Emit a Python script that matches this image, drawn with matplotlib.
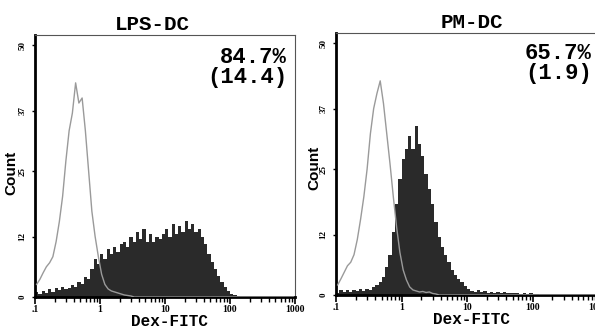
import numpy as np
import matplotlib.pyplot as plt
from matplotlib.ticker import FixedLocator, LogLocator, NullFormatter

# channel bins: 1/20 decade from 0.1 to 1000
edges = np.logspace(-1, 3, 81)
centers = np.sqrt(edges[:-1] * edges[1:])

# LPS-DC panel
lps_ctrl = [2.5, 3.5, 4.8, 6.0, 6.8, 8.0, 11.0, 15.0, 20.0, 27.0,
            33.0, 36.5, 42.5, 38.5, 39.5, 33.0, 25.0, 17.0, 12.0, 8.0,
            4.5, 2.5, 1.6, 1.2, 1.0, 0.8, 0.6, 0.4, 0.3, 0.2] + [0] * 50
lps_dc = [1.0, 0.6, 1.2, 0.8, 1.5, 1.0, 1.8, 1.3, 2.0, 1.6,
          1.8, 2.4, 2.0, 3.0, 2.6, 4.0, 3.6, 5.5, 7.5, 6.5,
          8.5, 7.5, 9.5, 8.5, 10.0, 9.0, 10.5, 11.0, 10.0, 12.0,
          11.0, 13.0, 11.5, 13.5, 11.0, 12.5, 11.0, 12.0, 11.5, 12.5,
          13.5, 12.0, 14.5, 12.5, 14.0, 13.0, 15.0, 13.5, 14.5, 13.0,
          13.5, 12.0, 10.5, 8.5, 7.0, 5.5, 4.2, 3.0, 2.0, 1.2,
          0.6, 0.3, 0.2] + [0] * 17

# PM-DC panel
pm_ctrl = [2.0, 3.2, 4.5, 5.8, 6.5, 8.0, 11.0, 15.0, 19.5, 25.0,
           32.0, 37.0, 40.0, 42.5, 38.0, 32.0, 26.0, 19.5, 13.5, 8.5,
           5.0, 3.0, 1.6, 1.0, 0.8, 0.6, 0.7, 0.5, 0.6, 0.3,
           0.2] + [0] * 49
pm_dc = [0.4, 0.9, 0.5, 1.0, 0.6, 0.9, 0.7, 1.1, 0.8, 1.2,
         1.0, 1.5, 2.0, 2.5, 3.5, 5.5, 8.0, 12.5, 18.0, 23.0,
         27.0, 29.0, 31.5, 29.0, 33.5, 30.0, 27.5, 24.0, 21.0, 18.0,
         14.5, 11.5, 9.5, 8.0, 6.5, 5.0, 4.0, 3.2, 2.5, 1.8,
         1.2, 0.8, 0.6, 0.9, 0.5, 0.7, 0.4, 0.6, 0.4, 0.5,
         0.3, 0.5, 0.3, 0.4, 0.3, 0.3, 0.2, 0.4, 0.2, 0.3,
         0.2, 0.1] + [0] * 18

titles = ['LPS-DC', 'PM-DC']
stats = ['84.7%\n(14.4)', '65.7%\n(1.9)']
yticks = [0, 12, 25, 37, 50]
xticks = [0.1, 1, 10, 100, 1000]
xticklabels = ['.1', '1', '10', '100', '1000']

W, H = 595, 327
fig = plt.figure(figsize=(W / 100, H / 100), dpi=100)

# axes boxes in pixels: left, top, right, bottom
boxes = [(35, 35, 295, 297), (336, 33, 598, 295)]
panels = [(lps_ctrl, lps_dc), (pm_ctrl, pm_dc)]
title_pos = [(152, 24), (472, 22)]
xlab_pos = [(169, 321), (472, 320)]
count_pos = [(11, 173), (314, 168)]
stat_pos = [(0.97, 0.955), (0.977, 0.962)]

for k in range(2):
    l, t, r, b = boxes[k]
    ax = fig.add_axes([l / W, 1 - b / H, (r - l) / W, (b - t) / H])
    ctrl, dc = panels[k]
    ax.stairs(dc, edges, fill=True, color='#2a2a2a', zorder=2)
    ax.plot(centers, ctrl, color='#9a9a9a', lw=1.0, zorder=3)

    ax.set_xscale('log')
    ax.set_xlim(0.1, 1000)
    ax.set_ylim(0, 52)

    ax.xaxis.set_major_locator(FixedLocator(xticks))
    ax.set_xticklabels(xticklabels, fontsize=7, fontweight='bold',
                       family='Liberation Serif')
    ax.xaxis.set_minor_locator(LogLocator(base=10, subs=np.arange(2, 10)))
    ax.xaxis.set_minor_formatter(NullFormatter())
    ax.set_yticks(yticks)
    ax.set_yticklabels([str(v) for v in yticks], fontsize=6.5, rotation=90,
                       va='center', family='Liberation Serif', fontweight='bold')
    ax.tick_params(axis='x', which='major', length=5, width=1.2, pad=0.5)
    ax.tick_params(axis='x', which='minor', length=3.5, width=1.0)
    ax.tick_params(axis='y', length=2, width=1.0, pad=4)

    for side in ['left', 'bottom']:
        ax.spines[side].set_linewidth(2)
        ax.spines[side].set_color('black')
    for side in ['top', 'right']:
        ax.spines[side].set_linewidth(0.8)
        ax.spines[side].set_color('#555555')

    ax.text(stat_pos[k][0], stat_pos[k][1], stats[k], transform=ax.transAxes,
            ha='right', va='top', multialignment='right', fontsize=16,
            fontweight='bold', family='Liberation Mono', linespacing=0.95)

    fig.text(title_pos[k][0] / W, 1 - title_pos[k][1] / H, titles[k],
             ha='center', va='center', fontsize=15, fontweight='bold',
             family='Liberation Mono')
    fig.text(xlab_pos[k][0] / W, 1 - xlab_pos[k][1] / H, 'Dex-FITC',
             ha='center', va='center', fontsize=11.5, fontweight='bold',
             family='Liberation Mono')
    fig.text(count_pos[k][0] / W, 1 - count_pos[k][1] / H, 'Count',
             ha='center', va='center', rotation=90, fontsize=11,
             fontweight='bold', family='Liberation Sans')

fig.savefig('out.png', dpi=100)
